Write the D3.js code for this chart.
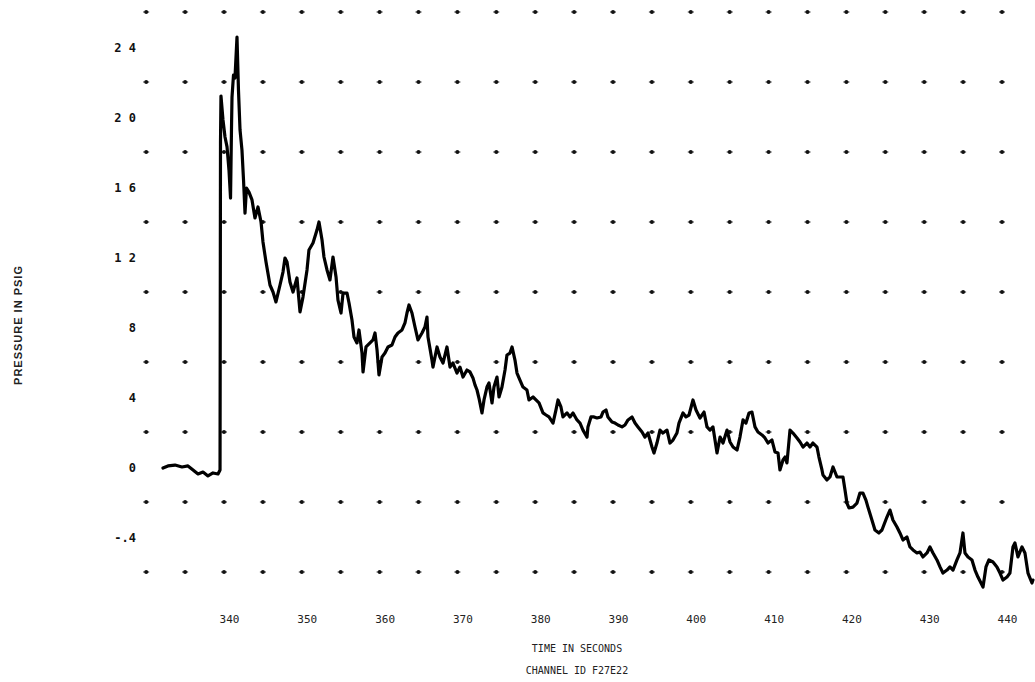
<!DOCTYPE html>
<html>
<head>
<meta charset="utf-8">
<script src="https://cdn.jsdelivr.net/npm/d3@7"></script>
<style>
  html, body { margin: 0; padding: 0; background: #fff; }
  svg { display: block; }
</style>
</head>
<body>
<svg id="chart" width="1035" height="682"></svg>
<script>
// ---- data ----
const times = [
  332.16,332.80,333.70,334.60,335.37,336.02,336.66,337.30,337.94,338.59,339.23,339.49,
  339.55,339.61,339.87,340.13,340.39,340.64,340.84,340.96,341.03,341.22,341.41,341.67,341.86,
  342.06,342.31,342.51,342.70,342.89,343.21,343.60,343.98,344.37,344.76,345.01,345.40,345.91,
  346.30,346.68,347.20,347.58,347.84,348.10,348.48,348.87,349.38,349.77,350.15,350.67,350.92,
  351.44,351.95,352.21,352.60,352.85,353.24,353.62,354.01,354.40,354.65,355.04,355.30,355.81,
  356.07,356.45,356.71,357.09,357.35,357.74,357.87,358.25,358.77,359.15,359.41,359.67,359.92,
  360.31,360.69,361.08,361.59,361.98,362.36,362.88,363.26,363.52,363.78,364.16,364.55,364.93,
  365.45,365.83,366.09,366.22,366.73,366.86,367.38,367.76,368.15,368.66,369.05,369.43,369.95,
  370.33,370.72,371.23,371.62,372.00,372.26,372.52,372.77,373.16,373.42,373.80,374.06,374.45,
  374.70,375.09,375.35,375.73,376.12,376.37,376.76,377.02,377.40,377.66,378.04,378.43,378.94,
  379.20,379.72,380.10,380.49,381.00,381.39,381.77,382.29,382.67,382.93,383.31,383.57,384.09,
  384.47,384.86,385.37,385.76,386.14,386.66,386.78,387.17,387.56,387.94,388.46,388.71,389.10,
  389.35,389.87,390.26,390.64,391.16,391.54,391.93,392.44,392.83,393.21,393.73,394.11,394.50,
  395.01,395.27,395.65,396.04,396.42,396.94,397.32,397.71,398.22,398.48,399.00,399.38,399.77,
  400.28,400.67,401.18,401.70,402.08,402.47,402.85,403.37,403.76,404.14,404.66,405.04,405.43,
  405.94,406.32,406.71,407.09,407.48,407.86,408.25,408.63,409.15,409.53,409.92,410.43,410.82,
  411.21,411.46,411.85,412.11,412.36,412.75,413.13,413.65,414.04,414.42,414.93,415.32,415.70,
  416.22,416.47,416.86,416.99,417.50,417.89,418.28,418.79,419.18,419.56,419.82,420.07,420.33,
  420.84,421.36,421.74,422.13,422.51,422.77,423.28,423.67,424.18,424.57,425.21,425.60,425.98,
  426.50,426.88,427.27,427.78,428.17,428.56,429.07,429.46,429.84,430.36,430.74,431.13,431.64,
  432.03,432.41,432.93,433.31,433.70,434.21,434.60,434.98,435.24,435.63,436.14,436.53,436.91,
  437.56,437.94,438.32,438.84,439.35,439.74,440.13,440.64,441.02,441.41,441.66,442.05,442.57,
  442.95,443.34,443.85,443.98
];
const pressure = [
  -0.006,0.006,0.011,0.000,0.006,-0.017,-0.040,-0.029,-0.051,-0.034,-0.040,-0.017,
  1.857,2.120,1.983,1.886,1.829,1.697,1.537,1.926,2.114,2.240,2.223,2.457,2.154,
  1.926,1.811,1.640,1.451,1.594,1.571,1.526,1.423,1.486,1.400,1.286,1.171,1.040,
  1.000,0.943,1.040,1.114,1.194,1.171,1.057,1.000,1.080,0.886,0.971,1.126,1.240,
  1.280,1.354,1.400,1.297,1.200,1.126,1.069,1.200,1.086,0.954,0.880,0.994,0.994,
  0.937,0.840,0.743,0.709,0.783,0.651,0.543,0.686,0.709,0.726,0.766,0.669,0.526,
  0.629,0.651,0.686,0.697,0.743,0.766,0.783,0.823,0.880,0.926,0.880,0.800,0.726,
  0.766,0.800,0.857,0.743,0.611,0.571,0.686,0.629,0.594,0.686,0.571,0.594,0.537,
  0.571,0.514,0.554,0.543,0.509,0.469,0.440,0.394,0.309,0.383,0.457,0.480,0.366,
  0.457,0.514,0.400,0.457,0.554,0.640,0.651,0.686,0.611,0.537,0.497,0.457,0.440,
  0.383,0.400,0.383,0.366,0.309,0.297,0.286,0.251,0.326,0.383,0.343,0.286,0.309,
  0.286,0.309,0.269,0.251,0.211,0.171,0.229,0.286,0.286,0.280,0.286,0.314,0.326,
  0.286,0.257,0.251,0.240,0.229,0.240,0.269,0.286,0.251,0.229,0.200,0.171,0.194,
  0.114,0.080,0.137,0.211,0.194,0.211,0.137,0.154,0.194,0.251,0.309,0.286,0.297,
  0.383,0.326,0.280,0.314,0.229,0.211,0.229,0.080,0.171,0.137,0.211,0.143,0.114,
  0.097,0.171,0.269,0.251,0.309,0.314,0.229,0.200,0.183,0.166,0.137,0.154,0.086,
  0.080,-0.017,0.040,0.057,0.023,0.211,0.194,0.166,0.143,0.114,0.137,0.114,0.137,
  0.114,0.057,-0.017,-0.046,-0.074,-0.057,0.000,-0.057,-0.057,-0.057,-0.131,-0.206,-0.234,
  -0.229,-0.206,-0.149,-0.149,-0.189,-0.229,-0.303,-0.360,-0.377,-0.360,-0.286,-0.246,-0.303,
  -0.343,-0.377,-0.417,-0.400,-0.457,-0.474,-0.491,-0.486,-0.514,-0.491,-0.457,-0.491,-0.531,
  -0.571,-0.606,-0.589,-0.571,-0.589,-0.531,-0.491,-0.377,-0.491,-0.514,-0.531,-0.589,-0.629,
  -0.686,-0.571,-0.531,-0.543,-0.571,-0.606,-0.646,-0.629,-0.606,-0.457,-0.434,-0.514,-0.457,
  -0.491,-0.606,-0.663,-0.646
];
const xTicks = [340,350,360,370,380,390,400,410,420,430,440];
const xTickLabels = ["340","350","360","370","380","390","400","410","420","430","440"];
const yTicks = [2.4,2.0,1.6,1.2,0.8,0.4,0,-0.4];
const yTickLabels = ["2 4","2 0","1 6","1 2","8","4","0","-.4"];
const gridTimes = [330,335,340,345,350,355,360,365,370,375,380,385,390,395,400,405,410,415,420,425,430,435,440];
const gridLevels = [2.6,2.2,1.8,1.4,1.0,0.6,0.2,-0.2,-0.6];
const xTitle = "TIME IN SECONDS";
const subTitle = "CHANNEL ID F27E22";
const yTitle = "PRESSURE IN PSIG";

// ---- drawing ----
const svg = d3.select("#chart");
const x = d3.scaleLinear().domain([340, 440]).range([224, 1002]);
const y = d3.scaleLinear().domain([0, 2.4]).range([467, 47]);

// grid dots
const gridPts = [];
gridLevels.forEach(v => gridTimes.forEach(t => gridPts.push([t, v])));
const g = svg.append("g");
g.selectAll("line.gd").data(gridPts).join("line")
  .attr("x1", d => x(d[0]) - 3).attr("x2", d => x(d[0]) + 3)
  .attr("y1", d => y(d[1])).attr("y2", d => y(d[1]))
  .attr("stroke", "#222").attr("stroke-width", 1);
g.selectAll("circle").data(gridPts).join("circle")
  .attr("cx", d => x(d[0])).attr("cy", d => y(d[1])).attr("r", 2)
  .attr("fill", "#111");

// y axis labels (no line)
const yAxis = d3.axisLeft(y).tickValues(yTicks)
  .tickFormat((d, i) => yTickLabels[i]).tickSize(0).tickPadding(0);
const ya = svg.append("g").attr("transform", "translate(136,0)").call(yAxis);
ya.select(".domain").remove();
ya.selectAll("text").attr("font-family", "DejaVu Sans Mono, monospace")
  .attr("font-weight", "bold").attr("font-size", 12).attr("fill", "#111")
  .attr("dy", "0.35em");

// x axis labels (no line)
const xAxis = d3.axisBottom(x).tickValues(xTicks)
  .tickFormat((d, i) => xTickLabels[i]).tickSize(0).tickPadding(0);
const xa = svg.append("g").attr("transform", "translate(5,615)").call(xAxis);
xa.select(".domain").remove();
xa.selectAll("text").attr("font-family", "DejaVu Sans Mono, monospace")
  .attr("font-size", 11).attr("fill", "#222");

// titles
svg.append("text").attr("x", 577).attr("y", 652).attr("text-anchor", "middle")
  .attr("font-family", "DejaVu Sans Mono, monospace").attr("font-size", 10)
  .attr("fill", "#222").text(xTitle);
svg.append("text").attr("x", 577).attr("y", 674).attr("text-anchor", "middle")
  .attr("font-family", "DejaVu Sans Mono, monospace").attr("font-size", 10)
  .attr("fill", "#222").text(subTitle);
svg.append("text").attr("transform", "translate(22,325) rotate(-90)")
  .attr("text-anchor", "middle").attr("font-family", "Liberation Sans, Arial, sans-serif")
  .attr("font-weight", "bold").attr("font-size", 11).attr("letter-spacing", 1)
  .attr("fill", "#222").text(yTitle);

// trace
const pts = times.map((t, i) => [t, pressure[i]]);
const line = d3.line().x(d => x(d[0])).y(d => y(d[1]));
svg.append("path").datum(pts).attr("d", line)
  .attr("fill", "none").attr("stroke", "#000").attr("stroke-width", 3.2)
  .attr("stroke-linejoin", "round").attr("stroke-linecap", "round");
</script>
</body>
</html>
